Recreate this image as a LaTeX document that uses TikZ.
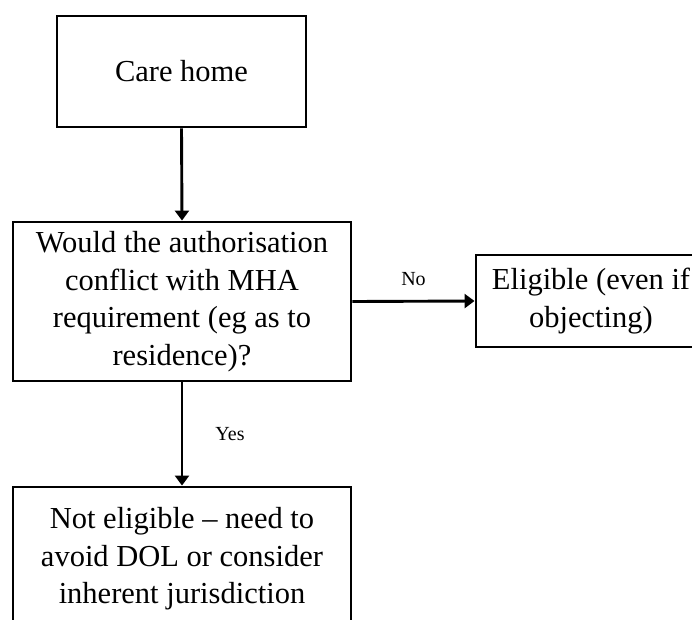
\documentclass[tikz,border=0pt]{standalone}
\usepackage{fontspec}
\setmainfont{Liberation Serif}
\usetikzlibrary{arrows.meta}
\tikzset{
  box/.style={draw, line width=2.9pt, rectangle, align=center, inner sep=0pt,
    font=\fontsize{30.5}{37.5}\selectfont},
  conn/.style={line width=2.9pt, -{Triangle[length=10pt,width=14pt]}},
  lbl/.style={inner sep=0pt, font=\fontsize{20}{24}\selectfont}
}
\begin{document}
\begin{tikzpicture}[x=1pt,y=-1pt]
\clip (0,0) rectangle (692,619);
\node[box, minimum width=249pt, minimum height=111pt] (care) at (181.5,71.5) {Care home};
\node[box, minimum width=338pt, minimum height=159pt] (q) at (182,301.5)
  {Would the authorisation\\conflict with MHA\\requirement (eg as to\\residence)?};
\node[box, minimum width=230pt, minimum height=92pt] (elig) at (591,301)
  {Eligible (even if\\objecting)};
\node[box, minimum width=338pt, minimum height=144pt] (noel) at (182,559)
  {Not eligible -- need to\\avoid DOL or consider\\inherent jurisdiction};
\draw[conn] (care.south) -- (q.north);
\draw[conn] (q.east) -- node[lbl, above=14pt] (no) {No} (elig.west);
\draw[conn] (q.south) -- node[lbl, right=32pt] (yes) {Yes} (noel.north);
\end{tikzpicture}
\end{document}
